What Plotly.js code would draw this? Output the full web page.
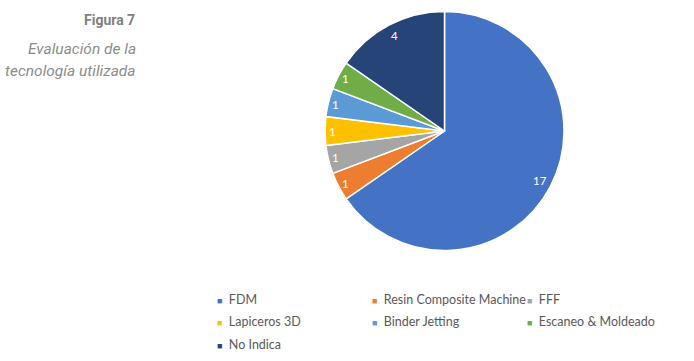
<!DOCTYPE html>
<html><head><meta charset="utf-8">
<script src="https://cdn.plot.ly/plotly-3.0.1.min.js"></script>
<style>html,body{margin:0;padding:0;background:#fff}#c{width:694px;height:361px}</style>
</head><body><div id="c"></div>
<script>
const categories = ["FDM","Resin Composite Machine","FFF","Lapiceros 3D","Binder Jetting","Escaneo & Moldeado","No Indica"];
const values = [17,1,1,1,1,1,4];
const colors = ["#4472C4","#ED7D31","#A5A5A5","#FFC000","#5B9BD5","#70AD47","#264478"];
const titleText = "Figura 7";
const subtitleLines = ["Evaluación de la","tecnología utilizada"];

const W = 694, H = 361;
const cx = 444.5, cy = 131, r = 119.5;
const total = values.reduce((a, b) => a + b, 0);

const traces = [{
  type: "pie",
  labels: categories,
  values: values,
  sort: false,
  direction: "clockwise",
  rotation: 0,
  marker: {colors: colors, line: {color: "#ffffff", width: 1.5}},
  textinfo: "none",
  showlegend: false,
  hoverinfo: "label+value",
  domain: {x: [(cx - r) / W, (cx + r) / W], y: [1 - (cy + r) / H, 1 - (cy - r) / H]}
}];

// legend laid out in 3 columns (item i -> column i % 3); small square key drawn as a coloured glyph
const legendNames = ["legend", "legend2", "legend3"];
categories.forEach((c, i) => {
  traces.push({
    type: "scatter", mode: "markers", x: [null], y: [null],
    name: '<span style="color:' + colors[i] + ';font-size:9px">■</span>\u00a0\u00a0' + c,
    legend: legendNames[i % 3], legendgroup: "g" + i,
    marker: {symbol: "square", size: 1, color: "rgba(0,0,0,0)"},
    hoverinfo: "skip", showlegend: true
  });
});

const colX = [177, 332, 487];
const legFont = {family: "Lato, Liberation Sans, Arial, sans-serif", size: 12.5, color: "#595959"};
function leg(i) {
  return {orientation: "v", x: colX[i] / W, xanchor: "left", y: 1 - 284 / H, yanchor: "top",
    tracegroupgap: 3.5, font: legFont, bgcolor: "rgba(0,0,0,0)",
    itemclick: false, itemdoubleclick: false, traceorder: "grouped"};
}

// data labels (values) placed inside slices near the rim
const annotations = [];
let cum = 0;
values.forEach((v, i) => {
  const mid = (cum + v / 2) / total * 2 * Math.PI;
  cum += v;
  const frac = v / total < 0.1 ? 0.94 : 0.9;
  const px = cx + Math.sin(mid) * r * frac;
  const py = cy - Math.cos(mid) * r * frac;
  annotations.push({text: String(v), xref: "paper", yref: "paper", x: px / W, y: 1 - py / H,
    xanchor: "center", yanchor: "middle", showarrow: false,
    font: {family: "Lato, Liberation Sans, Arial, sans-serif", size: 11.5, color: "#ffffff"}});
});

const tFont = "Roboto, Liberation Sans, sans-serif";
annotations.push(
  {text: "<b>" + titleText + "</b>", xref: "paper", yref: "paper", x: 137 / W, y: 1 - 20 / H,
   xanchor: "right", yanchor: "middle", showarrow: false,
   font: {family: tFont, size: 14, color: "#7F7F7F"}},
  {text: "<i>" + subtitleLines[0] + "</i>", xref: "paper", yref: "paper", x: 138 / W, y: 1 - 49 / H,
   xanchor: "right", yanchor: "middle", showarrow: false,
   font: {family: tFont, size: 15.5, color: "#8C8C8C"}},
  {text: "<i>" + subtitleLines[1] + "</i>", xref: "paper", yref: "paper", x: 138 / W, y: 1 - 71 / H,
   xanchor: "right", yanchor: "middle", showarrow: false,
   font: {family: tFont, size: 15.5, color: "#8C8C8C"}}
);

const layout = {
  width: W, height: H,
  margin: {l: 0, r: 0, t: 0, b: 0},
  paper_bgcolor: "#ffffff", plot_bgcolor: "#ffffff",
  xaxis: {visible: false, domain: [0, 0.01]},
  yaxis: {visible: false, domain: [0, 0.01]},
  legend: leg(0), legend2: leg(1), legend3: leg(2),
  annotations: annotations
};

Plotly.newPlot("c", traces, layout, {displayModeBar: false, staticPlot: true});
</script>
</body></html>
